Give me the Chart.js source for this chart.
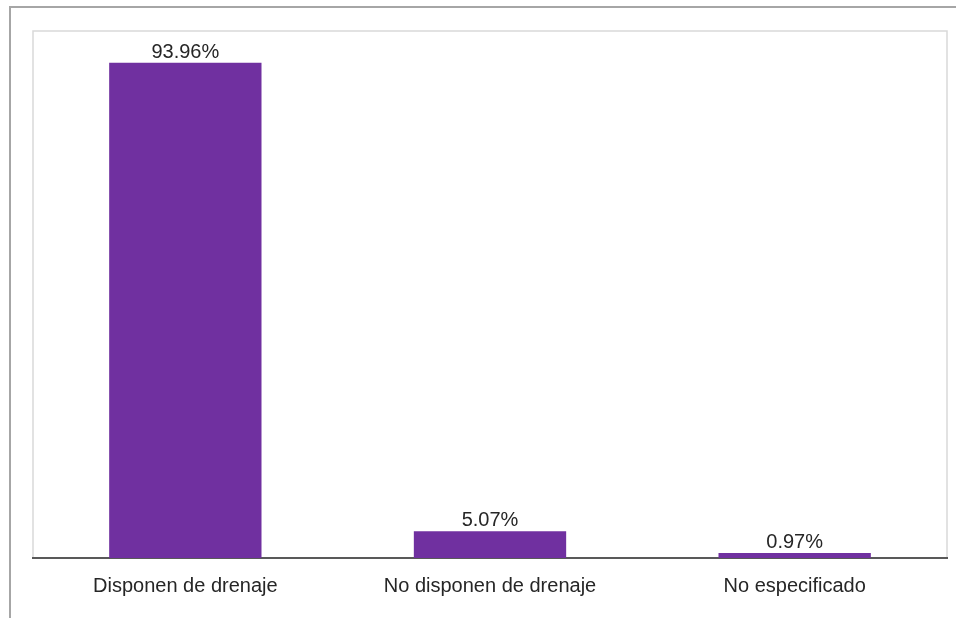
<!DOCTYPE html>
<html>
<head>
<meta charset="utf-8">
<script src="https://cdn.jsdelivr.net/npm/chart.js@4/dist/chart.umd.min.js"></script>
<style>
  html, body { margin: 0; padding: 0; background: #ffffff; }
  #wrap { width: 956px; height: 618px; position: relative; }
</style>
</head>
<body>
<div id="wrap"><canvas id="c" width="956" height="618"></canvas></div>
<script>
const categories = ["Disponen de drenaje", "No disponen de drenaje", "No especificado"];
const values = [93.96, 5.07, 0.97];
const valueLabels = ["93.96%", "5.07%", "0.97%"];
const yMin = 0;
const yMax = 100;

const FONT = '"Liberation Sans", Arial, sans-serif';

const framePlugin = {
  id: 'frame',
  beforeDraw(chart) {
    const ctx = chart.ctx;
    const a = chart.chartArea;
    ctx.save();
    ctx.fillStyle = '#ffffff';
    ctx.fillRect(0, 0, chart.width, chart.height);
    ctx.strokeStyle = '#a6a6a6';
    ctx.lineWidth = 2;
    ctx.beginPath();
    ctx.moveTo(10, chart.height);
    ctx.lineTo(10, 7);
    ctx.lineTo(chart.width, 7);
    ctx.stroke();
    ctx.strokeStyle = '#d9d9d9';
    ctx.lineWidth = 1.5;
    ctx.strokeRect(a.left, a.top, a.right - a.left, a.bottom - a.top);
    ctx.restore();
  },
  afterDatasetsDraw(chart) {
    const ctx = chart.ctx;
    const meta = chart.getDatasetMeta(0);
    ctx.save();
    ctx.font = '20px ' + FONT;
    ctx.fillStyle = '#262626';
    ctx.textAlign = 'center';
    ctx.textBaseline = 'alphabetic';
    meta.data.forEach((bar, i) => {
      ctx.fillText(valueLabels[i], bar.x, bar.y - 5);
    });
    ctx.restore();
  }
};

new Chart(document.getElementById('c'), {
  type: 'bar',
  data: {
    labels: categories,
    datasets: [{
      data: values,
      backgroundColor: '#7030a0',
      borderWidth: 0,
      barPercentage: 0.5,
      categoryPercentage: 1.0
    }]
  },
  options: {
    responsive: false,
    animation: false,
    devicePixelRatio: 1,
    layout: { padding: { left: 33, right: 9, top: 31, bottom: 4 } },
    plugins: { legend: { display: false }, tooltip: { enabled: false } },
    scales: {
      x: {
        grid: { display: false, drawTicks: false },
        border: { display: true, color: '#595959', width: 2 },
        ticks: {
          color: '#262626',
          padding: 16,
          font: { family: FONT, size: 20 }
        }
      },
      y: {
        display: false,
        min: yMin,
        max: yMax
      }
    }
  },
  plugins: [framePlugin]
});
</script>
</body>
</html>
